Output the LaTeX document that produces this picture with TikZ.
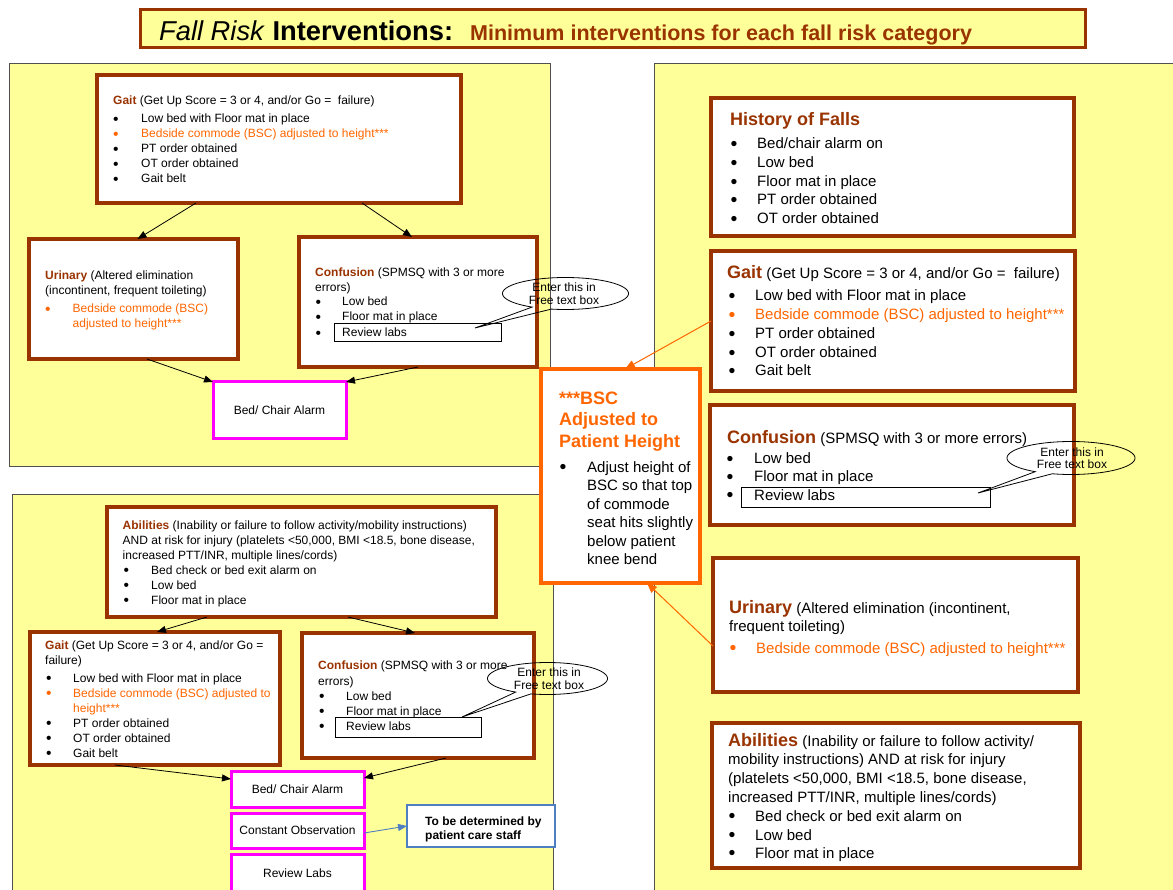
\documentclass[tikz,border=0pt]{standalone}
\usepackage{fontspec}
\usepackage{graphicx}
\setmainfont{Liberation Sans}
\usetikzlibrary{arrows.meta}
\definecolor{yel}{HTML}{FFFF99}
\definecolor{brn}{HTML}{993300}
\definecolor{org}{HTML}{FF6600}
\definecolor{mag}{HTML}{FF00FF}
\definecolor{blu}{HTML}{4F7FC0}
\definecolor{pgray}{HTML}{505050}
\newcommand\bigbul{\raisebox{-0.1em}{\scalebox{1.3}{\textbullet}}}
\newcommand\bitem[6][t12]{\node[#1] (#2) at (#3,#5) {\makebox[\dimexpr #4pt-#3pt\relax][l]{\bigbul}#6};}
\newcommand\hsm[1]{{\bfseries\color{brn}#1}}
\newcommand\hbig[1]{{\fontsize{18}{20}\selectfont\bfseries\color{brn}#1}}
\tikzset{
  panel/.style={draw=pgray, line width=0.8pt, fill=yel, anchor=north west, inner sep=0pt, outer sep=0pt},
  bbox/.style={draw=brn, line width=3.2pt, fill=white, anchor=north west, inner sep=0pt, outer sep=0pt},
  mbox/.style={draw=mag, line width=3pt, fill=white, anchor=north west, inner sep=0pt, outer sep=0pt, font=\fontsize{12}{14}\selectfont},
  lbox/.style={draw=black, line width=0.8pt, anchor=north west, inner sep=0pt, outer sep=0pt},
  obox/.style={draw=org, line width=3.5pt, fill=white, anchor=north west, inner sep=0pt, outer sep=0pt},
  qbox/.style={draw=blu, line width=2.6pt, fill=white, anchor=north west, inner sep=0pt, outer sep=0pt},
  t12/.style={inner sep=0pt, anchor=base west, font=\fontsize{12}{14}\selectfont},
  t12o/.style={t12, text=org},
  t15/.style={inner sep=0pt, anchor=base west, font=\fontsize{15}{18}\selectfont},
  t15o/.style={t15, text=org},
  callout/.style={draw=black, line width=0.8pt},
  ctext/.style={inner sep=0pt, align=center, font=\fontsize{12}{12.5}\selectfont},
  arr/.style={draw=black, line width=0.8pt, -{Triangle[length=9pt,width=7pt]}},
  oarr/.style={draw=org, line width=1pt, -{Triangle[length=10pt,width=8pt]}},
  barr/.style={draw=blu, line width=0.9pt, -{Triangle[length=9pt,width=7pt]}}
}
\begin{document}
\begin{tikzpicture}[x=1pt, y=-1pt]
\useasboundingbox (0,0) rectangle (1173,890);
\fill[white] (0,0) rectangle (1173,890);

% panels
\node[panel, minimum width=541pt, minimum height=403pt] (panA) at (9,63) {};
\node[panel, minimum width=541pt, minimum height=410pt] (panB) at (12,494) {};
\node[panel, minimum width=530pt, minimum height=840pt] (panR) at (654,63) {};

% title
\node[draw=brn, line width=3pt, fill=yel, anchor=north west, minimum width=945pt, minimum height=38pt, inner sep=0pt, outer sep=0pt] (tbox) at (140,10) {};
\node[inner sep=0pt, anchor=base west, font=\fontsize{27.3}{30}\selectfont] (t1) at (159,40.5) {\textit{Fall Risk} \textbf{Interventions:}};
\node[inner sep=0pt, anchor=base west, font=\fontsize{21.5}{24}\selectfont\bfseries, text=brn] (t2) at (470,40.5) {Minimum interventions for each fall risk category};

% ---------- top-left panel ----------
\node[bbox, minimum width=364pt, minimum height=128pt] (gA) at (97,75) {};
\node[t12] (gAh) at (113,105) {\hsm{Gait} (Get Up Score = 3 or 4, and/or Go =\ \ failure)};
\bitem{gA1}{113}{141}{123}{Low bed with Floor mat in place}
\bitem[t12o]{gA2}{113}{141}{138}{Bedside commode (BSC) adjusted to height***}
\bitem{gA3}{113}{141}{153}{PT order obtained}
\bitem{gA4}{113}{141}{168}{OT order obtained}
\bitem{gA5}{113}{141}{183}{Gait belt}

\node[bbox, minimum width=209pt, minimum height=120pt] (uA) at (29,239) {};
\node[t12] (uAh) at (45,280) {\hsm{Urinary} (Altered elimination};
\node[t12] (uAh2) at (45,295) {(incontinent, frequent toileting)};
\bitem[t12o]{uA1}{45}{72.5}{313}{Bedside commode (BSC)}
\node[t12o] (uA2) at (72.5,328) {adjusted to height***};

\node[bbox, minimum width=238pt, minimum height=130pt] (cA) at (299,237) {};
\node[t12] (cAh) at (315,277) {\hsm{Confusion} (SPMSQ with 3 or more};
\node[t12] (cAh2) at (315,292) {errors)};
\bitem{cA1}{315.5}{342}{306}{Low bed}
\bitem{cA2}{315.5}{342}{321}{Floor mat in place}
\bitem{cA3}{315.5}{342}{337}{Review labs}
\node[lbox, minimum width=167pt, minimum height=18pt] (rlA) at (334,323) {};

\node[mbox, minimum width=133pt, minimum height=57pt] (bedA) at (213,382) {Bed/ Chair Alarm};

\draw[arr] ([xshift=99pt]gA.south west) -- ([xshift=108.5pt]uA.north west);
\draw[arr] ([xshift=265pt]gA.south west) -- ([xshift=113pt]cA.north west);
\draw[arr] ([xshift=118pt]uA.south west) -- (bedA.north west);
\draw[arr] ([xshift=119pt]cA.south west) -- (bedA.north east);

% ---------- bottom-left panel ----------
\node[bbox, minimum width=389pt, minimum height=110pt] (abB) at (107,507) {};
\node[t12] (abBh) at (122.5,529) {\hsm{Abilities} (Inability or failure to follow activity/mobility instructions)};
\node[t12] (abBh2) at (122.5,544) {AND at risk for injury (platelets <50,000, BMI <18.5, bone disease,};
\node[t12] (abBh3) at (122.5,559) {increased PTT/INR, multiple lines/cords)};
\bitem{abB1}{123.5}{151}{574}{Bed check or bed exit alarm on}
\bitem{abB2}{123.5}{151}{589}{Low bed}
\bitem{abB3}{123.5}{151}{604}{Floor mat in place}

\node[bbox, minimum width=250pt, minimum height=133pt] (gB) at (30,632) {};
\node[t12] (gBh) at (45,649) {\hsm{Gait} (Get Up Score = 3 or 4, and/or Go =};
\node[t12] (gBh2) at (45,664) {failure)};
\bitem{gB1}{46}{73}{682}{Low bed with Floor mat in place}
\bitem[t12o]{gB2}{46}{73}{697}{Bedside commode (BSC) adjusted to}
\node[t12o] (gB2b) at (73,712) {height***};
\bitem{gB3}{46}{73}{727}{PT order obtained}
\bitem{gB4}{46}{73}{742}{OT order obtained}
\bitem{gB5}{46}{73}{757}{Gait belt}

\node[bbox, minimum width=232pt, minimum height=125pt] (cB) at (302,633) {};
\node[t12] (cBh) at (318,669) {\hsm{Confusion} (SPMSQ with 3 or more};
\node[t12] (cBh2) at (318,685) {errors)};
\bitem{cB1}{319}{346}{700}{Low bed}
\bitem{cB2}{319}{346}{715}{Floor mat in place}
\bitem{cB3}{319}{346}{730}{Review labs}
\node[lbox, minimum width=146pt, minimum height=20pt] (rlB) at (335,717) {};

\node[mbox, minimum width=133pt, minimum height=36pt] (bedB) at (231,771) {Bed/ Chair Alarm};
\node[mbox, minimum width=133pt, minimum height=35pt] (coB) at (231,813) {Constant Observation};
\node[mbox, minimum width=133pt, minimum height=38pt] (rvB) at (231,854) {Review Labs};
\node[qbox, minimum width=148pt, minimum height=42pt] (tbd) at (407,805) {};
\node[t12, font=\fontsize{12}{14}\selectfont\bfseries] (tbd1) at (425,825) {To be determined by};
\node[t12, font=\fontsize{12}{14}\selectfont\bfseries] (tbd2) at (425,839) {patient care staff};

\draw[arr] ([xshift=100pt]abB.south west) -- ([xshift=127pt]gB.north west);
\draw[arr] ([xshift=241pt]abB.south west) -- ([xshift=113pt]cB.north west);
\draw[arr] ([xshift=85pt]gB.south west) -- ([yshift=-8pt]bedB.north west);
\draw[arr] ([xshift=144pt]cB.south west) -- ([yshift=-7pt]bedB.north east);
\draw[barr] ([yshift=-20pt]coB.north east) -- ([yshift=-21pt]tbd.north west);

% ---------- right panel ----------
\node[bbox, minimum width=363pt, minimum height=138pt] (hR) at (711,98) {};
\node[t15] (hRh) at (730,126) {\hbig{History of Falls}};
\bitem[t15]{hR1}{730.5}{757}{149}{Bed/chair alarm on}
\bitem[t15]{hR2}{730.5}{757}{168}{Low bed}
\bitem[t15]{hR3}{730.5}{757}{187}{Floor mat in place}
\bitem[t15]{hR4}{730.5}{757}{205}{PT order obtained}
\bitem[t15]{hR5}{730.5}{757}{224}{OT order obtained}

\node[bbox, minimum width=364pt, minimum height=140pt] (gR) at (711,251) {};
\node[t15] (gRh) at (727,279) {\hbig{Gait} (Get Up Score = 3 or 4, and/or Go =\ \ failure)};
\bitem[t15]{gR1}{728.5}{755}{301}{Low bed with Floor mat in place}
\bitem[t15o]{gR2}{728.5}{755}{320}{Bedside commode (BSC) adjusted to height***}
\bitem[t15]{gR3}{728.5}{755}{339}{PT order obtained}
\bitem[t15]{gR4}{728.5}{755}{358}{OT order obtained}
\bitem[t15]{gR5}{728.5}{755}{376}{Gait belt}

\node[bbox, minimum width=364pt, minimum height=120pt] (cR) at (710,405) {};
\node[t15] (cRh) at (727,444) {\hbig{Confusion} (SPMSQ with 3 or more errors)};
\bitem[t15]{cR1}{726.5}{754}{464}{Low bed}
\bitem[t15]{cR2}{726.5}{754}{482}{Floor mat in place}
\bitem[t15]{cR3}{726.5}{754}{500}{Review labs}
\node[lbox, minimum width=249pt, minimum height=20pt] (rlR) at (741,487) {};

\node[bbox, minimum width=365pt, minimum height=134pt] (uR) at (713,558) {};
\node[t15] (uRh) at (729,613) {\hbig{Urinary} (Altered elimination (incontinent,};
\node[t15] (uRh2) at (729,631) {frequent toileting)};
\bitem[t15o]{uR1}{729.5}{756}{653}{Bedside commode (BSC) adjusted to height***}

\node[bbox, minimum width=368pt, minimum height=145pt] (aR) at (712,723) {};
\node[t15] (aRh) at (728,746) {\hbig{Abilities} (Inability or failure to follow activity/};
\node[t15] (aRh2) at (728,764) {mobility instructions) AND at risk for injury};
\node[t15] (aRh3) at (728,783) {(platelets <50,000, BMI <18.5, bone disease,};
\node[t15] (aRh4) at (728,802) {increased PTT/INR, multiple lines/cords)};
\bitem[t15]{aR1}{728.5}{755}{821}{Bed check or bed exit alarm on}
\bitem[t15]{aR2}{728.5}{755}{840}{Low bed}
\bitem[t15]{aR3}{728.5}{755}{858}{Floor mat in place}

% ---------- centre BSC box ----------
\node[obox, minimum width=159pt, minimum height=214pt] (bsc) at (541,369) {};
\node[t15, font=\fontsize{18}{20}\selectfont\bfseries, text=org] (bsch1) at (559,405) {***BSC};
\node[t15, font=\fontsize{18}{20}\selectfont\bfseries, text=org] (bsch2) at (559,426) {Adjusted to};
\node[t15, font=\fontsize{18}{20}\selectfont\bfseries, text=org] (bsch3) at (559,448) {Patient Height};
\bitem[t15]{bsc1}{559.5}{587}{472}{Adjust height of}
\node[t15] (bsc2) at (587,490.5) {BSC so that top};
\node[t15] (bsc3) at (587,509) {of commode};
\node[t15] (bsc4) at (587,527.5) {seat hits slightly};
\node[t15] (bsc5) at (587,546) {below patient};
\node[t15] (bsc6) at (587,564.5) {knee bend};

\draw[oarr] ([yshift=-70pt]gR.north west) -- ([xshift=84pt]bsc.north west);
\draw[oarr] ([yshift=-88pt]uR.north west) -- ([xshift=106pt]bsc.south west);

% ---------- callouts ----------
\coordinate (tipA) at (475,328);
\draw[callout] plot[domain=122:463, samples=90, variable=\t] ({565.5+63*cos(\t)},{293.5+16*sin(\t)}) -- (tipA) -- cycle;
\node[ctext] (calA) at (564,293.5) {Enter this in\\Free text box};

\coordinate (tipB) at (462,717);
\draw[callout] plot[domain=122:466, samples=90, variable=\t] ({547.5+60*cos(\t)},{678.5+16*sin(\t)}) -- (tipB) -- cycle;
\node[ctext] (calB) at (549,678.5) {Enter this in\\Free text box};

\coordinate (tipR) at (978,493);
\draw[callout] plot[domain=124:467, samples=90, variable=\t] ({1071+64*cos(\t)},{458+16.5*sin(\t)}) -- (tipR) -- cycle;
\node[ctext] (calR) at (1072,458) {Enter this in\\Free text box};
\end{tikzpicture}
\end{document}
